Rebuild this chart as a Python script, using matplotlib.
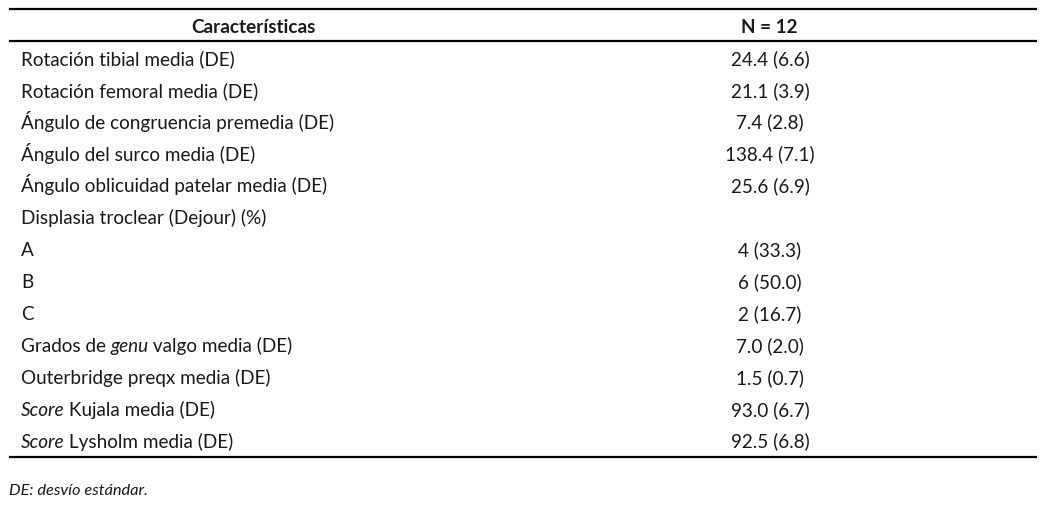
import matplotlib
matplotlib.use('Agg')
import matplotlib.pyplot as plt

# Table content
header = ['Características', 'N = 12']
labels = [
    [('Rotación tibial media (DE)', False)],
    [('Rotación femoral media (DE)', False)],
    [('Ángulo de congruencia premedia (DE)', False)],
    [('Ángulo del surco media (DE)', False)],
    [('Ángulo oblicuidad patelar media (DE)', False)],
    [('Displasia troclear (Dejour) (%)', False)],
    [('A', False)],
    [('B', False)],
    [('C', False)],
    [('Grados de ', False), ('genu', True), (' valgo media (DE)', False)],
    [('Outerbridge preqx media (DE)', False)],
    [('Score', True), (' Kujala media (DE)', False)],
    [('Score', True), (' Lysholm media (DE)', False)],
]
values = ['24.4 (6.6)', '21.1 (3.9)', '7.4 (2.8)', '138.4 (7.1)', '25.6 (6.9)', '',
          '4 (33.3)', '6 (50.0)', '2 (16.7)', '7.0 (2.0)', '1.5 (0.7)',
          '93.0 (6.7)', '92.5 (6.8)']
footnote = 'DE: desvío estándar.'

W, H = 1050, 509
fig = plt.figure(figsize=(W / 100, H / 100), dpi=100)
ax = fig.add_axes([0, 0, 1, 1])
ax.set_xlim(0, W)
ax.set_ylim(H, 0)
ax.axis('off')

font = 'Lato'
fs = 13.6
col = '#1a1a1a'

# rules
for y in (9, 41, 457):
    ax.plot([9, 1037], [y, y], color='black', lw=1.6, solid_capstyle='butt')

ax.text(253, 32.5, header[0], ha='center', va='baseline', fontsize=fs,
        fontweight='bold', family=font, color=col)
ax.text(769, 32.5, header[1], ha='center', va='baseline', fontsize=fs,
        fontweight='bold', family=font, color=col)

fig.canvas.draw()
renderer = fig.canvas.get_renderer()
inv = ax.transData.inverted()

y0, dy = 64.8, 31.9
for i, (parts, val) in enumerate(zip(labels, values)):
    y = y0 + i * dy
    x = 21
    for txt, it in parts:
        t = ax.text(x, y, txt, ha='left', va='baseline', fontsize=fs, family=font,
                    style='italic' if it else 'normal', color=col)
        bb = t.get_window_extent(renderer)
        x = inv.transform((bb.x1, bb.y0))[0] - (1.0 if it else 0)
    ax.text(770, y, val, ha='center', va='baseline', fontsize=fs, family=font, color=col)

ax.text(9, 495, footnote, ha='left', va='baseline', fontsize=11.8, family=font,
        style='italic', color=col)

fig.savefig('out.png', dpi=100)
